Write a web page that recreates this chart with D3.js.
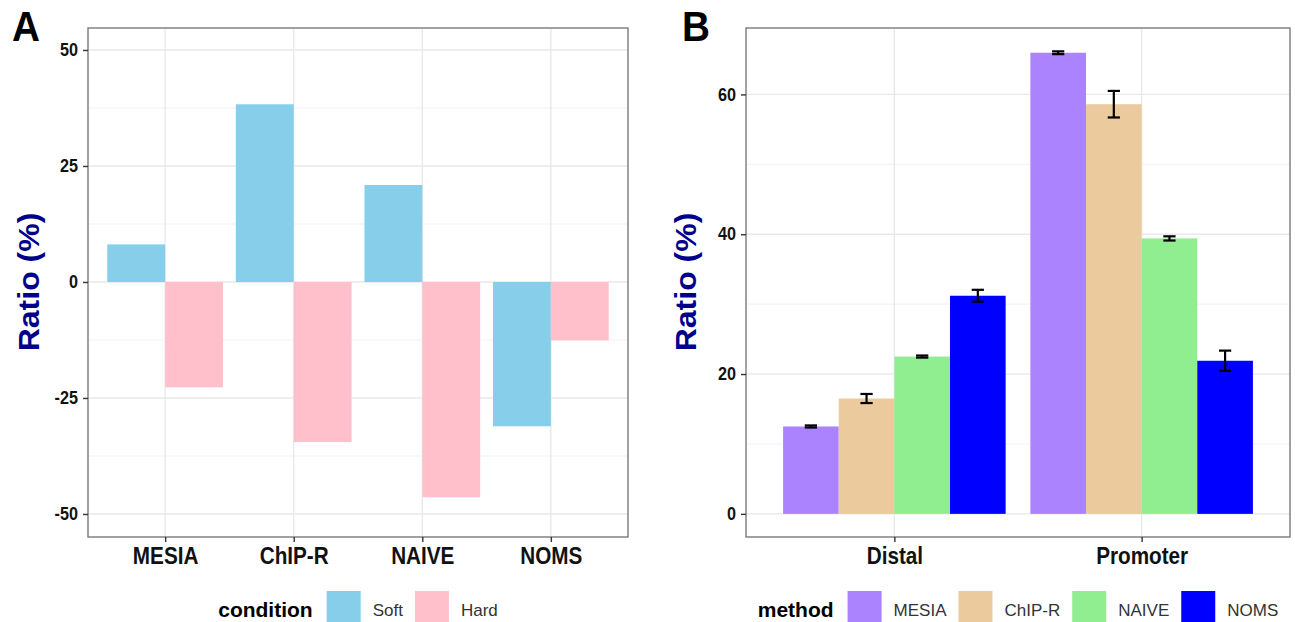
<!DOCTYPE html>
<html>
<head>
<meta charset="utf-8">
<script src="https://cdn.jsdelivr.net/npm/d3@7"></script>
<style>
  body { margin: 0; background: #fff; }
  svg { display: block; font-family: "Liberation Sans", Arial, sans-serif; }
</style>
</head>
<body>
<div id="chart"></div>
<script>
// ---- data ----
var methods = ["MESIA", "ChIP-R", "NAIVE", "NOMS"];
var conditions = ["Soft", "Hard"];
var softVals = [8.1, 38.3, 20.9, -31.1];
var hardVals = [-22.7, -34.5, -46.4, -12.6];

var regions = ["Distal", "Promoter"];
var distalVals = [12.5, 16.5, 22.5, 31.2];
var distalErr = [0.15, 0.65, 0.15, 0.85];
var promoterVals = [65.96, 58.6, 39.4, 21.9];
var promoterErr = [0.2, 1.9, 0.3, 1.45];

var ticksA = [-50, -25, 0, 25, 50];
var minorA = [-37.5, -12.5, 12.5, 37.5];
var ticksB = [0, 20, 40, 60];
var minorB = [10, 30, 50];

var condColor = {Soft: "#87CEEB", Hard: "#FFC0CB"};
var methodColor = {"MESIA": "#AB82FF", "ChIP-R": "#EBCB9D", "NAIVE": "#90EE90", "NOMS": "#0000FF"};

var width = 1295, height = 622;
var squeeze = 0.9; // bold axis text looks condensed in the original

var svg = d3.select("#chart").append("svg")
  .attr("width", width).attr("height", height);

var plotTop = 28, plotBottom = 537;

// draw one ggplot-like panel frame: grid, axes, title
function panel(opt) {
  var g = svg.append("g");
  var x = opt.x, y = opt.y;

  // grid
  g.selectAll(".minor").data(opt.minor).enter().append("line")
    .attr("x1", x.range()[0]).attr("x2", x.range()[1])
    .attr("y1", d => y(d)).attr("y2", d => y(d))
    .attr("stroke", "#ededed").attr("stroke-width", 0.8);
  g.selectAll(".major").data(opt.ticks).enter().append("line")
    .attr("x1", x.range()[0]).attr("x2", x.range()[1])
    .attr("y1", d => y(d)).attr("y2", d => y(d))
    .attr("stroke", "#e8e8e8").attr("stroke-width", 1.3);
  g.selectAll(".vmajor").data(x.domain()).enter().append("line")
    .attr("x1", d => x(d)).attr("x2", d => x(d))
    .attr("y1", plotTop).attr("y2", plotBottom)
    .attr("stroke", "#e8e8e8").attr("stroke-width", 1.3);

  var marks = svg.append("g");

  // border + axes drawn later so they sit on top
  var frame = svg.append("g");
  frame.append("rect")
    .attr("x", x.range()[0]).attr("y", plotTop)
    .attr("width", x.range()[1] - x.range()[0]).attr("height", plotBottom - plotTop)
    .attr("fill", "none").attr("stroke", "#7a7a7a").attr("stroke-width", 1.4);

  var yAxis = frame.append("g")
    .attr("transform", "translate(" + x.range()[0] + ",0)")
    .call(d3.axisLeft(y).tickValues(opt.ticks).tickFormat(d => String(d)).tickSize(5).tickPadding(5));
  yAxis.select(".domain").remove();
  yAxis.selectAll("line").attr("stroke", "#333").attr("stroke-width", 1.4);
  yAxis.selectAll("text")
    .attr("x", -10 / squeeze)
    .attr("transform", "scale(" + squeeze + ",1)")
    .style("font-size", "18px").style("font-weight", "bold").attr("fill", "#111");

  var xAxis = frame.append("g")
    .attr("transform", "translate(0," + plotBottom + ")")
    .call(d3.axisBottom(x).tickSize(5).tickPadding(6));
  xAxis.select(".domain").remove();
  xAxis.selectAll("line").attr("stroke", "#333").attr("stroke-width", 1.4);
  xAxis.selectAll("text")
    .attr("transform", "scale(" + squeeze + ",1)")
    .style("font-size", "23px").style("font-weight", "bold").attr("fill", "#111");

  // y title
  frame.append("text")
    .attr("transform", "translate(" + opt.titleX + "," + 282 + ") scale(" + squeeze + ",1) rotate(-90)")
    .attr("text-anchor", "middle").attr("dy", "0.36em")
    .style("font-size", "32px").style("font-weight", "bold")
    .attr("fill", "#00008B").text("Ratio (%)");

  // panel letter
  frame.append("text")
    .attr("transform", "translate(" + opt.letterX + ",41) scale(" + squeeze + ",1)")
    .style("font-size", "43px").style("font-weight", "bold")
    .attr("fill", "#000").text(opt.letter);

  return marks;
}

// legend centred below a panel
function legend(title, keys, colors, cx) {
  var g = svg.append("g");
  var t = g.append("text").attr("x", 0).attr("y", 617)
    .style("font-size", "21px").style("font-weight", "bold").attr("fill", "#000").text(title);
  var cur = t.node().getComputedTextLength() + 14;
  keys.forEach(function(k, i) {
    g.append("rect").attr("x", cur).attr("y", 591).attr("width", 34).attr("height", 34)
      .attr("fill", colors[k]);
    cur += 34 + 12;
    var lt = g.append("text").attr("x", cur).attr("y", 616)
      .style("font-size", "17px").attr("fill", "#333").text(k);
    cur += lt.node().getComputedTextLength() + (i < keys.length - 1 ? 12 : 0);
  });
  g.attr("transform", "translate(" + (cx - cur / 2) + ",0)");
}

// ---- Panel A ----
var xA = d3.scalePoint().domain(methods).range([88, 628]).padding(0.6);
var yA = d3.scaleLinear().domain([-54.96, 54.74]).range([plotBottom, plotTop]);
var marksA = panel({x: xA, y: yA, ticks: ticksA, minor: minorA, titleX: 29, letter: "A", letterX: 12});

var dodgeA = xA.step() * 0.9;
var subA = d3.scaleBand().domain(conditions).range([-dodgeA / 2, dodgeA / 2]);
var rowsA = [];
methods.forEach(function(m, i) {
  rowsA.push({m: m, c: "Soft", v: softVals[i]});
  rowsA.push({m: m, c: "Hard", v: hardVals[i]});
});
marksA.selectAll("rect").data(rowsA).enter().append("rect")
  .attr("x", d => xA(d.m) + subA(d.c))
  .attr("width", subA.bandwidth())
  .attr("y", d => yA(Math.max(0, d.v)))
  .attr("height", d => Math.abs(yA(d.v) - yA(0)))
  .attr("fill", d => condColor[d.c]);

legend("condition", conditions, condColor, (88 + 628) / 2);

// ---- Panel B ----
var xB = d3.scalePoint().domain(regions).range([746, 1290]).padding(0.6);
var yB = d3.scaleLinear().domain([-3.31, 69.5]).range([plotBottom, plotTop]);
var marksB = panel({x: xB, y: yB, ticks: ticksB, minor: minorB, titleX: 686, letter: "B", letterX: 682});

var dodgeB = xB.step() * 0.9;
var subB = d3.scaleBand().domain(methods).range([-dodgeB / 2, dodgeB / 2]);
var rowsB = [];
methods.forEach(function(m, i) {
  rowsB.push({r: "Distal", m: m, v: distalVals[i], e: distalErr[i]});
  rowsB.push({r: "Promoter", m: m, v: promoterVals[i], e: promoterErr[i]});
});
marksB.selectAll("rect").data(rowsB).enter().append("rect")
  .attr("x", d => xB(d.r) + subB(d.m))
  .attr("width", subB.bandwidth())
  .attr("y", d => yB(d.v))
  .attr("height", d => yB(0) - yB(d.v))
  .attr("fill", d => methodColor[d.m]);

// error bars
var capW = subB.bandwidth() * 0.22;
var eb = marksB.selectAll(".eb").data(rowsB).enter().append("g")
  .attr("transform", d => "translate(" + (xB(d.r) + subB(d.m) + subB.bandwidth() / 2) + ",0)")
  .attr("stroke", "#000").attr("stroke-width", 2.2);
eb.append("line").attr("x1", 0).attr("x2", 0)
  .attr("y1", d => yB(d.v + d.e)).attr("y2", d => yB(d.v - d.e));
eb.append("line").attr("x1", -capW / 2).attr("x2", capW / 2)
  .attr("y1", d => yB(d.v + d.e)).attr("y2", d => yB(d.v + d.e));
eb.append("line").attr("x1", -capW / 2).attr("x2", capW / 2)
  .attr("y1", d => yB(d.v - d.e)).attr("y2", d => yB(d.v - d.e));

legend("method", methods, methodColor, (746 + 1290) / 2);
</script>
</body>
</html>
